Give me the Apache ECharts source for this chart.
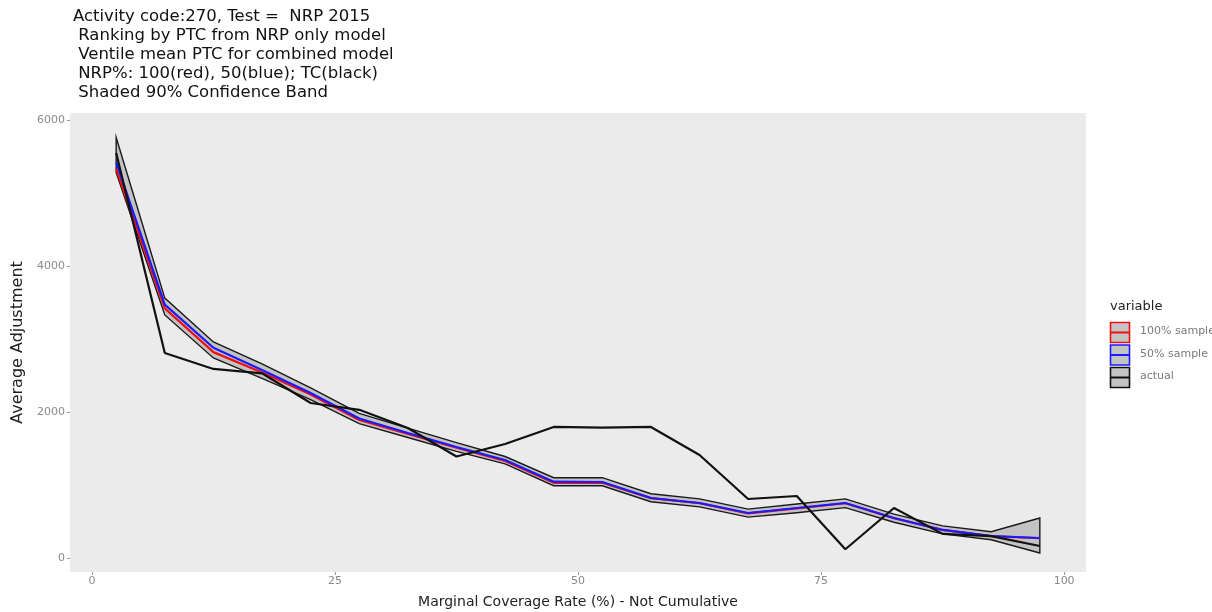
<!DOCTYPE html>
<html>
<head>
<meta charset="utf-8">
<script src="https://cdn.jsdelivr.net/npm/echarts@6/dist/echarts.min.js"></script>
<style>
  html, body { margin: 0; padding: 0; background: #ffffff; }
  #chart { width: 1212px; height: 612px; }
</style>
</head>
<body>
<div id="chart"></div>
<script>
// Ventile midpoints of the marginal coverage rate (%)
const ventiles = [2.5, 7.5, 12.5, 17.5, 22.5, 27.5, 32.5, 37.5, 42.5, 47.5,
                  52.5, 57.5, 62.5, 67.5, 72.5, 77.5, 82.5, 87.5, 92.5, 97.5];

// Ventile mean PTC, combined model
const sample100 = [5330, 3420, 2820, 2540, 2240, 1890, 1700, 1510, 1330, 1030,
                   1030, 820, 750, 610, 680, 750, 545, 385, 300, 270];
const sample50  = [5420, 3470, 2880, 2575, 2260, 1910, 1712, 1520, 1342, 1045,
                   1041, 822, 753, 616, 685, 753, 548, 384, 301, 274];
// Observed TC
const actual    = [5548, 2808, 2590, 2530, 2123, 2030, 1780, 1390, 1562, 1795,
                   1785, 1795, 1411, 808, 849, 120, 685, 330, 300, 164];

// 90% confidence band
const bandUpper = [5760, 3560, 2960, 2660, 2330, 1980, 1780, 1580, 1390, 1100,
                   1100, 880, 810, 670, 740, 810, 600, 440, 360, 548];
const bandLower = [5280, 3330, 2740, 2460, 2170, 1840, 1650, 1460, 1290, 990,
                   990, 770, 700, 560, 620, 690, 490, 330, 250, 68];

const xTicks = [0, 25, 50, 75, 100];
const yTicks = [0, 2000, 4000, 6000];

const titleLines = [
  'Activity code:270, Test =  NRP 2015',
  ' Ranking by PTC from NRP only model',
  ' Ventile mean PTC for combined model',
  ' NRP%: 100(red), 50(blue); TC(black)',
  ' Shaded 90% Confidence Band'
];

const legendItems = [
  { name: '100% sample', color: '#ee1111' },
  { name: '50% sample',  color: '#1a1aff' },
  { name: 'actual',      color: '#111111' }
];

const pairs = (ys) => ventiles.map((x, i) => [x, ys[i]]);

const chart = echarts.init(document.getElementById('chart'), null, { renderer: 'canvas' });

const axisLabelStyle = {
  color: '#8a8a8a', fontSize: 11, fontFamily: 'DejaVu Sans',
  formatter: (v) => String(v)
};

const legendGraphics = [{
  type: 'text', left: 1110, top: 300,
  style: { text: 'variable', fontSize: 13, fontFamily: 'DejaVu Sans', fill: '#222' }
}];
legendItems.forEach((it, i) => {
  const top = 322 + i * 22.5;
  legendGraphics.push({
    type: 'rect', shape: { x: 1110.5, y: top + 0.5, width: 19, height: 20 },
    style: { fill: '#c4c4c4', stroke: it.color, lineWidth: 1.6 }
  });
  legendGraphics.push({
    type: 'line', shape: { x1: 1111, y1: top + 10.5, x2: 1129, y2: top + 10.5 },
    style: { stroke: it.color, lineWidth: 2 }
  });
  legendGraphics.push({
    type: 'text', left: 1140, top: top + 4,
    style: { text: it.name, fontSize: 11, fontFamily: 'DejaVu Sans', fill: '#7a7a7a' }
  });
});

const option = {
  backgroundColor: '#ffffff',
  animation: false,
  title: {
    text: titleLines.join('\n'),
    left: 68, top: 2,
    textStyle: { fontSize: 16.5, fontWeight: 'normal', fontFamily: 'DejaVu Sans',
                 color: '#111', lineHeight: 19 }
  },
  grid: {
    left: 70, right: 126, top: 113, bottom: 40,
    outerBoundsMode: 'none',
    containLabel: false,
    show: true, backgroundColor: '#ebebeb', borderWidth: 0
  },
  xAxis: {
    type: 'value', min: -2.25, max: 102.25,
    name: 'Marginal Coverage Rate (%) - Not Cumulative',
    nameLocation: 'middle', nameGap: 23,
    nameTextStyle: { fontSize: 14, fontFamily: 'DejaVu Sans', color: '#222' },
    axisLine: { show: false, onZero: false },
    axisTick: { show: true, customValues: xTicks, length: 3, lineStyle: { color: '#999' } },
    axisLabel: Object.assign({ customValues: xTicks, margin: 4 }, axisLabelStyle),
    splitLine: { show: false }
  },
  yAxis: {
    type: 'value', min: -192, max: 6096,
    name: 'Average Adjustment',
    nameLocation: 'middle', nameGap: 40,
    nameTextStyle: { fontSize: 16, fontFamily: 'DejaVu Sans', color: '#222' },
    axisLine: { show: false, onZero: false },
    axisTick: { show: true, customValues: yTicks, length: 3, lineStyle: { color: '#999' } },
    axisLabel: Object.assign({ customValues: yTicks, margin: 5 }, axisLabelStyle),
    splitLine: { show: false }
  },
  graphic: legendGraphics,
  series: [
    {
      // shaded confidence band, outlined in black
      type: 'custom',
      name: 'band',
      silent: true,
      data: [[0]],
      renderItem: function (params, api) {
        const pts = [];
        for (let i = 0; i < ventiles.length; i++) pts.push(api.coord([ventiles[i], bandUpper[i]]));
        for (let i = ventiles.length - 1; i >= 0; i--) pts.push(api.coord([ventiles[i], bandLower[i]]));
        return {
          type: 'polygon',
          shape: { points: pts },
          style: { fill: 'rgba(140,140,140,0.42)', stroke: '#1a1a1a', lineWidth: 1.4 }
        };
      },
      z: 1
    },
    {
      type: 'line', name: '100% sample', data: pairs(sample100),
      showSymbol: false, lineStyle: { color: '#ee1111', width: 2.2 }, z: 2
    },
    {
      type: 'line', name: '50% sample', data: pairs(sample50),
      showSymbol: false, lineStyle: { color: '#1a1aff', width: 2.2 }, z: 3
    },
    {
      type: 'line', name: 'actual', data: pairs(actual),
      showSymbol: false, lineStyle: { color: '#111111', width: 2.2 }, z: 4
    }
  ]
};

chart.setOption(option);
</script>
</body>
</html>
